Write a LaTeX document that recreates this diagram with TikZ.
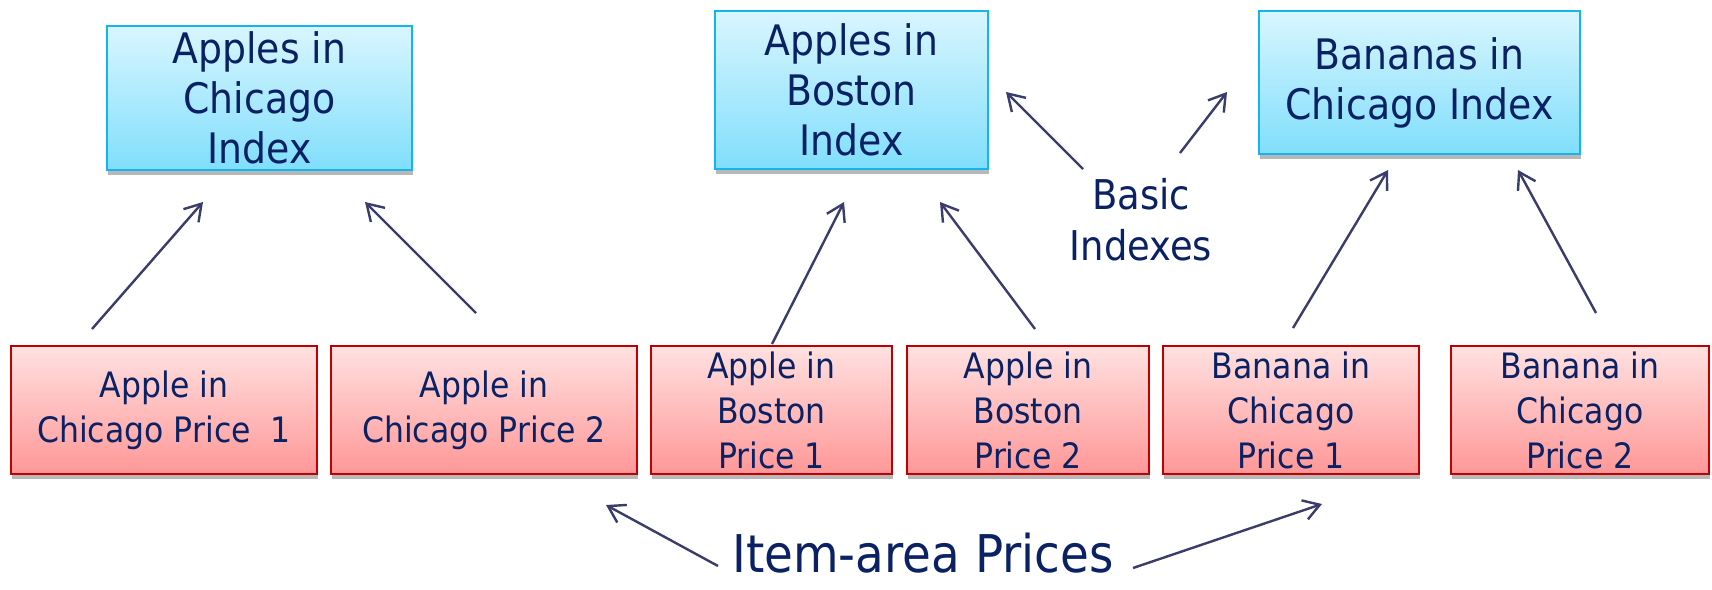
\documentclass[tikz,border=0pt]{standalone}
\usepackage{fontspec}
\setmainfont{DejaVu Sans}[FakeStretch=0.9]
\usetikzlibrary{arrows.meta,shadows}
\definecolor{txt}{HTML}{0A2163}
\definecolor{arr}{HTML}{3A3C6C}
\definecolor{bborder}{HTML}{14B4EE}
\definecolor{btop}{HTML}{D9F6FE}
\definecolor{bbot}{HTML}{80DEFC}
\definecolor{rborder}{HTML}{C00000}
\definecolor{rtop}{HTML}{FFE1E1}
\definecolor{rbot}{HTML}{FF9797}
\tikzset{
  idxbox/.style={draw=bborder, line width=1pt, top color=btop, bottom color=bbot,
    text=txt, align=center, inner sep=0pt, font=\fontsize{21}{25}\selectfont,
    drop shadow={shadow xshift=0.6pt, shadow yshift=-2.5pt, opacity=0.28, fill=black}},
  pricebox/.style={draw=rborder, line width=1pt, top color=rtop, bottom color=rbot,
    text=txt, align=center, inner sep=0pt, minimum height=64pt, font=\fontsize{17.5}{22.5}\selectfont,
    drop shadow={shadow xshift=0.6pt, shadow yshift=-2.5pt, opacity=0.28, fill=black}},
  lbl/.style={text=txt, inner sep=0pt},
  arrowline/.style={draw=arr, line width=1.2pt, -{Straight Barb[length=8pt,width=10pt]}}
}
\begin{document}
\begin{tikzpicture}[x=0.5pt,y=-0.5pt]
\path[use as bounding box] (0,0) rectangle (1712,589);
% index boxes
\node[idxbox, minimum width=152.5pt, minimum height=72pt] (b1) at (259.5,98) {Apples in\\Chicago\\Index};
\node[idxbox, minimum width=136.5pt, minimum height=79pt] (b2) at (851.5,90) {Apples in\\Boston\\Index};
\node[idxbox, minimum width=160.5pt, minimum height=71.5pt] (b3) at (1419.5,82.5) {Bananas in\\Chicago Index};
% price boxes
\node[pricebox, minimum width=153pt] (r1) at (164,410) {Apple in\\Chicago Price\ \ 1};
\node[pricebox, minimum width=153pt] (r2) at (484,410) {Apple in\\Chicago Price 2};
\node[pricebox, minimum width=120.5pt] (r3) at (771.5,410) {Apple in\\Boston\\Price 1};
\node[pricebox, minimum width=121pt] (r4) at (1028,410) {Apple in\\Boston\\Price 2};
\node[pricebox, minimum width=128pt] (r5) at (1291,410) {Banana in\\Chicago\\Price 1};
\node[pricebox, minimum width=129pt] (r6) at (1580,410) {Banana in\\Chicago\\Price 2};
% labels
\node[lbl, align=center, font=\fontsize{20.5}{25.5}\selectfont] (basic) at (1141,220) {Basic\\Indexes};
\node[lbl, font=\fontsize{26}{30}\selectfont] (item) at (923,553) {Item-area Prices};
% arrow end points
\coordinate (a1s) at (92,329);   \coordinate (a1e) at (203,202);
\coordinate (a2s) at (476,313);  \coordinate (a2e) at (365,202);
\coordinate (a3s) at (772,344);  \coordinate (a3e) at (844,202);
\coordinate (a4s) at (1035,329); \coordinate (a4e) at (940,202);
\coordinate (a5s) at (1293,328); \coordinate (a5e) at (1388,170);
\coordinate (a6s) at (1596,313); \coordinate (a6e) at (1518,170);
\coordinate (c1s) at (1083,169); \coordinate (c1e) at (1006,92);
\coordinate (c2s) at (1180,153); \coordinate (c2e) at (1227,92);
\coordinate (d1s) at (718,566);  \coordinate (d1e) at (606,505);
\coordinate (d2s) at (1133,568); \coordinate (d2e) at (1322,504);
\foreach \s/\e in {a1s/a1e,a2s/a2e,a3s/a3e,a4s/a4e,a5s/a5e,a6s/a6e,c1s/c1e,c2s/c2e,d1s/d1e,d2s/d2e}
  \draw[arrowline] (\s) -- (\e);
\end{tikzpicture}
\end{document}
